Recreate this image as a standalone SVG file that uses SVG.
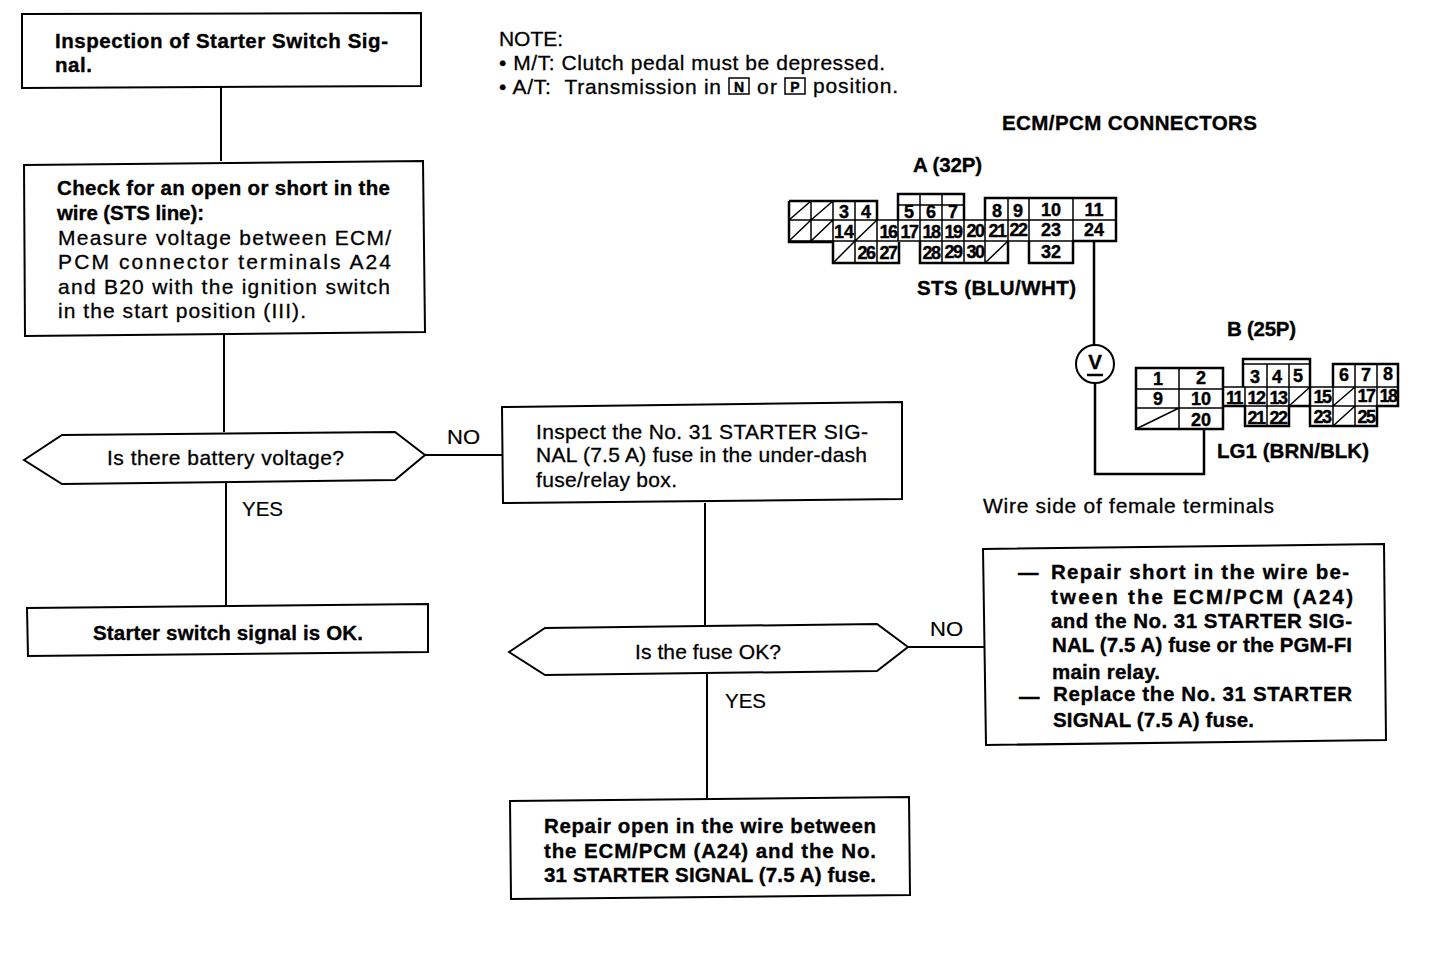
<svg xmlns="http://www.w3.org/2000/svg" width="1440" height="954" viewBox="0 0 1440 954">
<style>
text{font-family:"Liberation Sans",Arial,sans-serif;fill:#000;font-size:20px}
.b{font-weight:bold;font-size:20.5px;stroke:#000;stroke-width:.35}
.r{font-size:21px;stroke:#000;stroke-width:.3}
.l{font-size:21px;stroke:#000;stroke-width:.2}
.n{font-weight:bold;font-size:18px;text-anchor:middle;stroke:#000;stroke-width:.4}
.s{font-size:18px;letter-spacing:-1.4px}
.box{fill:#fff;stroke:#000;stroke-width:2}
.ln{fill:none;stroke:#000;stroke-width:2}
.g{fill:none;stroke:#000;stroke-width:1.5}
.h{fill:none;stroke:#000;stroke-width:2.5}
</style>
<rect width="1440" height="954" fill="#fff"/>
<g id="connectors" class="ln">
<path d="M221 86V161"/>
<path d="M224 334V432"/>
<path d="M226 482V605"/>
<path d="M425 455H502"/>
<path d="M705 503V626"/>
<path d="M707 674V798"/>
<path d="M908 647H985"/>
</g>
<g id="n1"><polygon class="box" points="22,14 421,13 421,86 22,88"/>
<text class="b" x="55" y="48" textLength="333">Inspection of Starter Switch Sig-</text>
<text class="b" x="55" y="72" textLength="37">nal.</text></g>
<g id="n2"><polygon class="box" points="24,165 423,161 425,332 25,336"/>
<text class="b" x="57" y="195" textLength="333">Check for an open or short in the</text>
<text class="b" x="57" y="220" textLength="147">wire (STS line):</text>
<text class="r" x="58" y="245" textLength="333">Measure voltage between ECM/</text>
<text class="r" x="58" y="269" textLength="333">PCM connector terminals A24</text>
<text class="r" x="58" y="294" textLength="332">and B20 with the ignition switch</text>
<text class="r" x="58" y="318" textLength="248">in the start position (III).</text></g>
<g id="n3"><polygon class="box" points="24,460 62,435 395,432 425,455 395,480 62,484"/>
<text class="r" x="107" y="465" textLength="237">Is there battery voltage?</text></g>
<g id="n4"><polygon class="box" points="502,407 902,402 902,499 503,503"/>
<text class="r" x="536" y="439" textLength="332">Inspect the No. 31 STARTER SIG-</text>
<text class="r" x="536" y="462" textLength="331">NAL (7.5 A) fuse in the under-dash</text>
<text class="r" x="536" y="487" textLength="141">fuse/relay box.</text></g>
<g id="n5"><polygon class="box" points="27,608 428,604 428,652 28,656"/>
<text class="b" x="93" y="640" textLength="270">Starter switch signal is OK.</text></g>
<g id="n6"><polygon class="box" points="509,652 545,628 877,624 908,647 877,671 545,675"/>
<text class="r" x="635" y="659" textLength="146">Is the fuse OK?</text></g>
<g id="n7"><polygon class="box" points="510,801 909,797 910,895 511,899"/>
<text class="b" x="544" y="833" textLength="332">Repair open in the wire between</text>
<text class="b" x="544" y="858" textLength="332">the ECM/PCM (A24) and the No.</text>
<text class="b" x="544" y="882" textLength="332">31 STARTER SIGNAL (7.5 A) fuse.</text></g>
<g id="n8"><polygon class="box" points="983,549 1384,544 1386,740 986,745"/>
<text class="b" x="1018" y="579">—</text>
<text class="b" x="1051" y="579" textLength="298">Repair short in the wire be-</text>
<text class="b" x="1051" y="604" textLength="302">tween the ECM/PCM (A24)</text>
<text class="b" x="1051" y="628" textLength="301">and the No. 31 STARTER SIG-</text>
<text class="b" x="1052" y="652" textLength="300">NAL (7.5 A) fuse or the PGM-FI</text>
<text class="b" x="1052" y="679" textLength="108">main relay.</text>
<text class="b" x="1019" y="703">—</text>
<text class="b" x="1053" y="701" textLength="299">Replace the No. 31 STARTER</text>
<text class="b" x="1053" y="727" textLength="201">SIGNAL (7.5 A) fuse.</text></g>
<g id="labels">
<text class="l" x="447" y="444" textLength="33" lengthAdjust="spacingAndGlyphs">NO</text>
<text class="l" x="242" y="516" textLength="41" lengthAdjust="spacingAndGlyphs">YES</text>
<text class="l" x="930" y="636" textLength="33" lengthAdjust="spacingAndGlyphs">NO</text>
<text class="l" x="725" y="708" textLength="41" lengthAdjust="spacingAndGlyphs">YES</text>
</g>
<g id="note">
<text class="r" x="499" y="46" textLength="64">NOTE:</text>
<text class="r" x="499" y="70" textLength="386">• M/T: Clutch pedal must be depressed.</text>
<text class="r" x="499" y="94" textLength="222" xml:space="preserve">• A/T:  Transmission in</text>
<rect x="729" y="78" width="20" height="16" class="g"/>
<text class="n" x="739" y="92" style="font-size:14px">N</text>
<text class="r" x="757" y="94" textLength="20">or</text>
<rect x="785" y="78" width="20" height="16" class="g"/>
<text class="n" x="795" y="92" style="font-size:14px">P</text>
<text class="r" x="813" y="93" textLength="85">position.</text>
</g>
<g id="connector-a">
<text class="b" x="1002" y="130" textLength="255">ECM/PCM CONNECTORS</text>
<text class="b" x="913" y="172" textLength="69">A (32P)</text>
<text class="b" x="917" y="295" textLength="159">STS (BLU/WHT)</text>
<path class="h" d="M789 201H877V220M789 201V242H833V263H899V242M898 220V194H964V220M985 220V198H1116V241H1073V263H1029V241M920 241V263H1008V241"/>
<path class="g" d="M789 220H1116M789 241H1116M811 201V241M833 201V241M855 201V263M877 220V263M898 220V241M920 194V241M942 194V263M964 220V263M985 220V263M1008 198V241M1029 198V241M1073 198V263M898 205H964M811 201L789 220M833 201L811 220M811 220L789 241M833 220L811 241M877 220L855 241M855 241L833 263M1008 241L985 263"/>
<text class="n" x="844" y="218">3</text><text class="n" x="866" y="218">4</text>
<text class="n" x="909" y="218">5</text><text class="n" x="931" y="218">6</text><text class="n" x="953" y="218">7</text>
<text class="n" x="997" y="217">8</text><text class="n" x="1018" y="217">9</text><text class="n" x="1051" y="216">10</text><text class="n" x="1094" y="216">11</text>
<text class="n" x="844" y="238">14</text><text class="n s" x="888" y="238">16</text><text class="n s" x="909" y="238">17</text><text class="n s" x="931" y="238">18</text><text class="n s" x="953" y="238">19</text><text class="n s" x="975" y="237">20</text><text class="n s" x="997" y="237">21</text><text class="n s" x="1018" y="236">22</text><text class="n" x="1051" y="236">23</text><text class="n" x="1094" y="236">24</text>
<text class="n s" x="866" y="259">26</text><text class="n s" x="888" y="259">27</text><text class="n s" x="931" y="259">28</text><text class="n s" x="953" y="258">29</text><text class="n s" x="975" y="258">30</text><text class="n" x="1051" y="258">32</text>
</g>
<g id="meter" class="ln">
<path d="M1094 241V345M1095 383V474H1204V429" stroke-width="2.5"/>
<circle cx="1095" cy="364" r="19" fill="#fff"/>
<path d="M1087 375H1103" stroke-width="2.5"/>
</g>
<text id="meter-v" class="b" x="1095" y="369" text-anchor="middle">V</text>
<g id="connector-b">
<text class="b" x="1227" y="336" textLength="69">B (25P)</text>
<text class="b" x="1217" y="458" textLength="152">LG1 (BRN/BLK)</text>
<text x="983" y="513" textLength="291" class="r">Wire side of female terminals</text>
<path class="h" d="M1136 429V368H1223V429ZM1223 387V406H1245V426H1289V406H1310V387M1243 387V359H1310V387M1310 406V426H1377V406H1398V364H1333V387"/>
<path class="g" d="M1136 389H1223M1136 408H1223M1179 368V429M1223 387H1398M1223 406H1398M1245 387V406M1267 364V426M1289 364V406M1243 364H1310M1310 387V406M1333 387V426M1355 364V426M1377 364V406M1179 408L1136 429M1310 387L1289 406M1355 387L1333 406M1355 406L1333 426"/>
<text class="n" x="1158" y="385">1</text><text class="n" x="1201" y="384">2</text>
<text class="n" x="1255" y="383">3</text><text class="n" x="1277" y="383">4</text><text class="n" x="1298" y="382">5</text><text class="n" x="1344" y="381">6</text><text class="n" x="1366" y="381">7</text><text class="n" x="1388" y="380">8</text>
<text class="n" x="1158" y="405">9</text><text class="n" x="1201" y="405">10</text><text class="n s" x="1234" y="404">11</text><text class="n s" x="1256" y="404">12</text><text class="n s" x="1278" y="404">13</text><text class="n s" x="1322" y="403">15</text><text class="n s" x="1366" y="402">17</text><text class="n s" x="1388" y="402">18</text>
<text class="n" x="1201" y="426">20</text><text class="n s" x="1256" y="424">21</text><text class="n s" x="1278" y="424">22</text><text class="n s" x="1322" y="423">23</text><text class="n s" x="1366" y="423">25</text>
</g>
</svg>
